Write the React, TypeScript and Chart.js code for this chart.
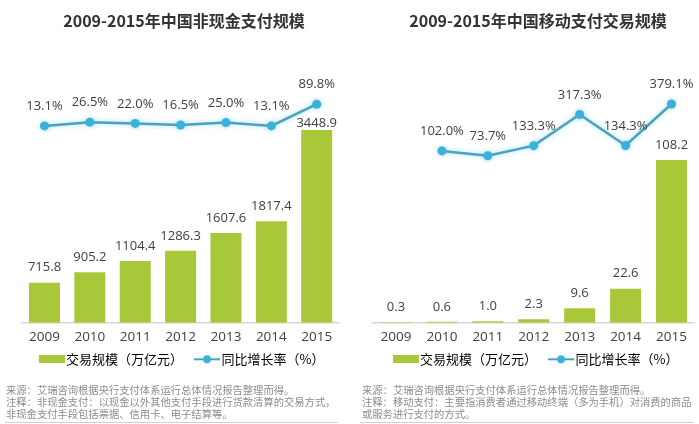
import React, { useEffect, useRef } from "react";
import { Chart, registerables } from "chart.js";

Chart.register(...registerables);

// ---------- data ----------
const years = ["2009", "2010", "2011", "2012", "2013", "2014", "2015"];
const noncashScale = [715.8, 905.2, 1104.4, 1286.3, 1607.6, 1817.4, 3448.9];
const noncashGrowth = [13.1, 26.5, 22.0, 16.5, 25.0, 13.1, 89.8];
const mobileScale = [0.3, 0.6, 1.0, 2.3, 9.6, 22.6, 108.2];
const mobileGrowth: (number | null)[] = [null, 102.0, 73.7, 133.3, 317.3, 134.3, 379.1];

const leftTitle = "2009-2015年中国非现金支付规模";
const rightTitle = "2009-2015年中国移动支付交易规模";
const barLegend = "交易规模（万亿元）";
const lineLegend = "同比增长率（%）";
const leftNotes = [
  "来源：艾瑞咨询根据央行支付体系运行总体情况报告整理而得。",
  "注释：非现金支付：以现金以外其他支付手段进行货款清算的交易方式，",
  "非现金支付手段包括票据、信用卡、电子结算等。",
];
const rightNotes = [
  "来源：艾瑞咨询根据央行支付体系运行总体情况报告整理而得。",
  "注释：移动支付：主要指消费者通过移动终端（多为手机）对消费的商品",
  "或服务进行支付的方式。",
];

// ---------- style ----------
const BAR_COLOR = "#a8c83a";
const LINE_COLOR = "#4aa3bb";
const POINT_COLOR = "#38b2da";
const TEXT_COLOR = "#404040";
const CJK = "'Noto Sans CJK SC', 'Noto Sans', sans-serif";
const NUM = "'Open Sans', 'Noto Sans', sans-serif";

function makeBarIcon(): HTMLCanvasElement {
  const c = document.createElement("canvas");
  c.width = 26;
  c.height = 8;
  const g = c.getContext("2d")!;
  g.fillStyle = BAR_COLOR;
  g.fillRect(0, 0, 26, 8);
  return c;
}

function makeLineIcon(): HTMLCanvasElement {
  const c = document.createElement("canvas");
  c.width = 26;
  c.height = 10;
  const g = c.getContext("2d")!;
  g.strokeStyle = LINE_COLOR;
  g.lineWidth = 2;
  g.beginPath();
  g.moveTo(0, 5);
  g.lineTo(26, 5);
  g.stroke();
  g.fillStyle = POINT_COLOR;
  g.beginPath();
  g.arc(13, 5, 4, 0, Math.PI * 2);
  g.fill();
  return c;
}

const valueLabels = {
  id: "valueLabels",
  afterDatasetsDraw(chart: any) {
    const ctx = chart.ctx;
    const barMeta = chart.getDatasetMeta(0);
    const lineMeta = chart.getDatasetMeta(1);
    const barData = chart.data.datasets[0].data;
    const lineData = chart.data.datasets[1].data;
    ctx.save();
    ctx.font = `13px ${NUM}`;
    ctx.fillStyle = TEXT_COLOR;
    ctx.textAlign = "center";
    ctx.textBaseline = "middle";
    barMeta.data.forEach((bar: any, i: number) => {
      let y = bar.y - 15;
      const pt = lineMeta.data[i];
      if (lineData[i] != null && pt && y - pt.y < 16) y = bar.y - 7;
      ctx.fillText(Number(barData[i]).toFixed(1), bar.x, y);
    });
    lineMeta.data.forEach((pt: any, i: number) => {
      const v = lineData[i];
      if (v == null) return;
      ctx.fillText(Number(v).toFixed(1) + "%", pt.x, pt.y - 19.5);
    });
    ctx.restore();
  },
};

// soft glow around the growth line, as in the reference
const lineGlow = {
  id: "lineGlow",
  beforeDatasetDraw(chart: any, args: any) {
    if (args.index !== 1) return;
    const ctx = chart.ctx;
    ctx.save();
    ctx.shadowColor = "rgba(56,178,218,0.45)";
    ctx.shadowBlur = 5;
  },
  afterDatasetDraw(chart: any, args: any) {
    if (args.index !== 1) return;
    chart.ctx.restore();
  },
};

const LEGEND_SHIFT = 8.3;
const legendShift = {
  id: "legendShift",
  afterLayout(chart: any) {
    const l = chart.legend;
    if (l) {
      l.top -= LEGEND_SHIFT;
      l.bottom -= LEGEND_SHIFT;
    }
  },
};

type PanelProps = {
  left: number;
  width: number;
  title: string;
  bars: number[];
  growth: (number | null)[];
  yMax: number;
  y1Min: number;
  y1Max: number;
  axisLeft: number;
  axisRight: number;
  barPct: number;
};

const CANVAS_H = 385;

function Panel(p: PanelProps) {
  const ref = useRef<HTMLCanvasElement | null>(null);
  useEffect(() => {
    if (!ref.current) return;
    const barIcon = makeBarIcon();
    const lineIcon = makeLineIcon();
    const chart = new Chart(ref.current, {
      type: "bar",
      data: {
        labels: years,
        datasets: [
          {
            type: "bar",
            label: barLegend,
            data: p.bars,
            backgroundColor: BAR_COLOR,
            yAxisID: "y",
            barPercentage: p.barPct,
            categoryPercentage: 1,
            order: 2,
          } as any,
          {
            type: "line",
            label: lineLegend,
            data: p.growth,
            borderColor: LINE_COLOR,
            borderWidth: 2.5,
            pointRadius: 4.5,
            pointBackgroundColor: POINT_COLOR,
            pointBorderColor: POINT_COLOR,
            pointBorderWidth: 0,
            yAxisID: "y1",
            tension: 0,
            spanGaps: false,
            order: 1,
          } as any,
        ],
      },
      options: {
        animation: false,
        responsive: false,
        layout: { padding: { top: 0, bottom: 0.9, left: 0, right: 0 } },
        plugins: {
          tooltip: { enabled: false },
          title: {
            display: true,
            text: p.title,
            color: "#333333",
            font: { family: CJK, size: 16, weight: "bold", lineHeight: 1.2 },
            padding: { top: 10.9, bottom: 29.9 },
          },
          legend: {
            display: true,
            position: "bottom",
            labels: {
              usePointStyle: true,
              pointStyleWidth: 16,
              padding: 16,
              color: TEXT_COLOR,
              font: { family: CJK, size: 13 },
              generateLabels: () => [
                {
                  text: barLegend,
                  pointStyle: barIcon,
                  fillStyle: BAR_COLOR,
                  strokeStyle: BAR_COLOR,
                  lineWidth: 0,
                  hidden: false,
                  datasetIndex: 0,
                } as any,
                {
                  text: lineLegend,
                  pointStyle: lineIcon,
                  fillStyle: POINT_COLOR,
                  strokeStyle: LINE_COLOR,
                  lineWidth: 0,
                  hidden: false,
                  datasetIndex: 1,
                } as any,
              ],
            },
          },
        },
        scales: {
          x: {
            grid: { display: false, drawTicks: false },
            border: { display: true, color: "#d6d6d6", width: 1.5 },
            ticks: {
              color: TEXT_COLOR,
              font: { family: NUM, size: 13.5, lineHeight: 1.2 },
              padding: 6.2,
            },
            afterFit: (s: any) => {
              s.height = 22.4;
            },
          },
          y: {
            position: "left",
            min: 0,
            max: p.yMax,
            grid: { display: false, drawTicks: false },
            border: { display: false },
            ticks: { display: false },
            afterFit: (s: any) => {
              s.width = p.axisLeft;
            },
          },
          y1: {
            position: "right",
            min: p.y1Min,
            max: p.y1Max,
            grid: { display: false, drawTicks: false },
            border: { display: false },
            ticks: { display: false },
            afterFit: (s: any) => {
              s.width = p.axisRight;
            },
          },
        },
      } as any,
      plugins: [valueLabels, lineGlow, legendShift],
    });
    return () => chart.destroy();
  }, []);
  return (
    <canvas
      ref={ref}
      width={p.width}
      height={CANVAS_H}
      style={{ position: "absolute", left: p.left, top: 0, width: p.width, height: CANVAS_H }}
    />
  );
}

function Notes({ left, lines }: { left: number; lines: string[] }) {
  return (
    <div
      style={{
        position: "absolute",
        left,
        top: 384,
        fontFamily: CJK,
        fontSize: "10.3px",
        lineHeight: "12px",
        color: "#8c8c8c",
        whiteSpace: "nowrap",
      }}
    >
      {lines.map((l, i) => (
        <div key={i}>{l}</div>
      ))}
    </div>
  );
}

export default function App() {
  return (
    <div
      style={{
        position: "absolute",
        left: 0,
        top: 0,
        width: 699,
        height: 424,
        overflow: "hidden",
        background: "#ffffff",
      }}
    >
      <Panel
        left={0}
        width={368}
        title={leftTitle}
        bars={noncashScale}
        growth={noncashGrowth}
        yMax={4702}
        y1Min={-682}
        y1Max={246}
        axisLeft={21.8}
        axisRight={28.6}
        barPct={0.683}
      />
      <Panel
        left={368}
        width={340}
        title={rightTitle}
        bars={mobileScale}
        growth={mobileGrowth}
        yMax={174.7}
        y1Min={-912.6}
        y1Max={639.1}
        axisLeft={5.04}
        axisRight={13.54}
        barPct={0.675}
      />
      <Notes left={6} lines={leftNotes} />
      <Notes left={362} lines={rightNotes} />
      <div style={{ position: "absolute", left: 5, top: 422, width: 333, height: 1, background: "#d0d0d0" }} />
      <div style={{ position: "absolute", left: 360, top: 422, width: 334, height: 1, background: "#d0d0d0" }} />
    </div>
  );
}
